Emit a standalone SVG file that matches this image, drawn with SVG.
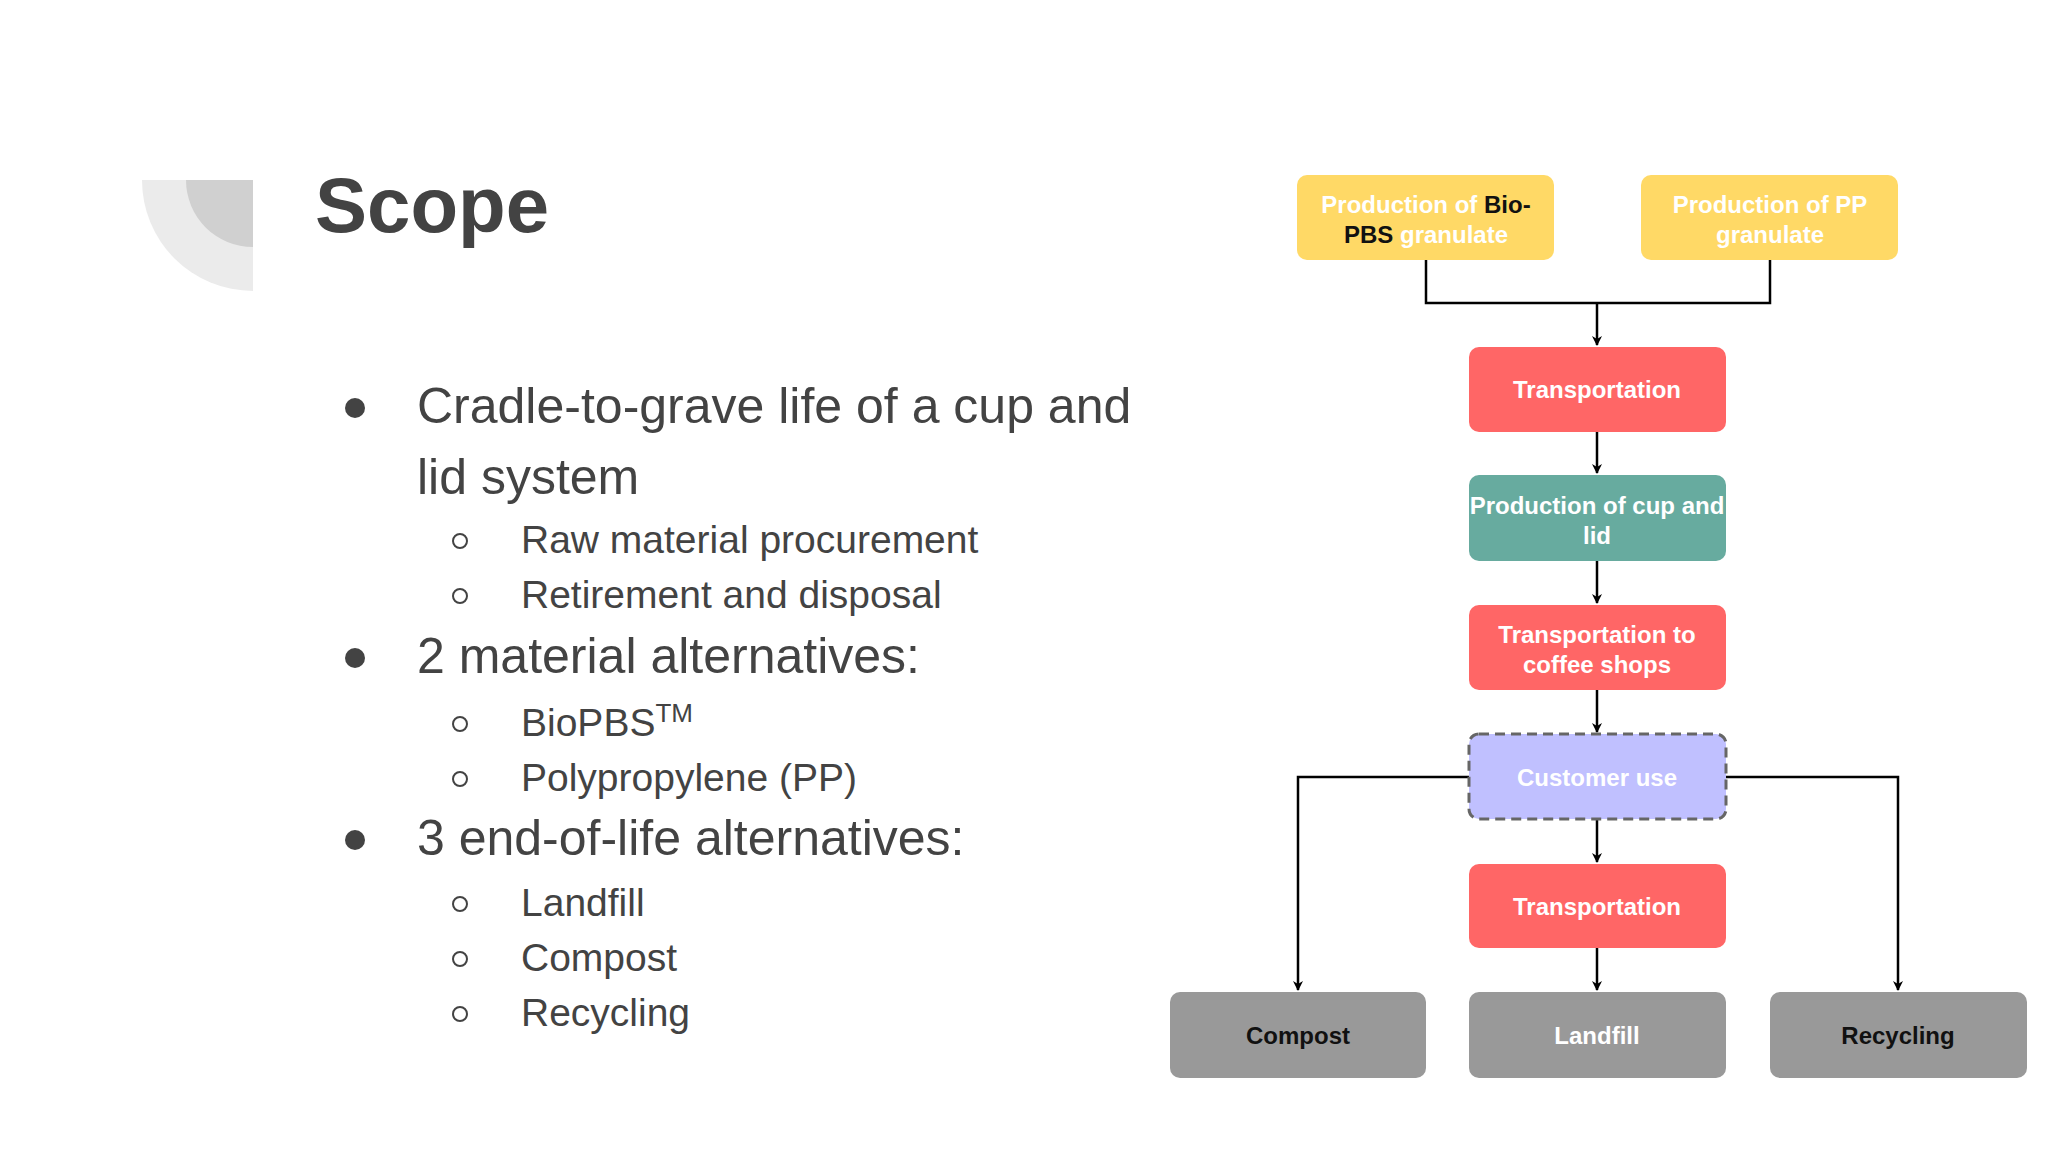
<svg xmlns="http://www.w3.org/2000/svg" width="2048" height="1152" viewBox="0 0 2048 1152">
<defs>
<marker id="ah" markerWidth="10" markerHeight="10" refX="9" refY="5" orient="auto" markerUnits="userSpaceOnUse" viewBox="0 0 10 10"><path d="M0,0 L10,5 L0,10 L3,5 z" fill="#000"/></marker>
</defs>
<style>
.b{font-family:"Liberation Sans",Arial,sans-serif;fill:#434343}
.m{font-size:50px}.s{font-size:39px}
.n{font-family:"Liberation Sans",Arial,sans-serif;font-size:24px;font-weight:bold;fill:#fff;text-anchor:middle}
.k{fill:#111}
.c{fill:none;stroke:#000;stroke-width:2.5}
</style>
<rect width="2048" height="1152" fill="#fff"/>
<path d="M253,180 L142,180 A111,111 0 0 0 253,291 Z" fill="#ebebeb"/>
<path d="M253,180 L186,180 A67,67 0 0 0 253,247 Z" fill="#d0d0d0"/>
<text x="315" y="232" font-family="Liberation Sans,Arial,sans-serif" font-size="78" font-weight="bold" fill="#434343">Scope</text>
<g class="b">
<circle cx="355" cy="408" r="10"/><circle cx="355" cy="658" r="10"/><circle cx="355" cy="840" r="10"/>
<text class="m" x="417" y="423">Cradle-to-grave life of a cup and</text>
<text class="m" x="417" y="494">lid system</text>
<text class="m" x="417" y="673">2 material alternatives:</text>
<text class="m" x="417" y="855">3 end-of-life alternatives:</text>
<g fill="none" stroke="#434343" stroke-width="2"><circle cx="460" cy="541" r="7"/><circle cx="460" cy="596" r="7"/><circle cx="460" cy="724" r="7"/><circle cx="460" cy="779" r="7"/><circle cx="460" cy="904" r="7"/><circle cx="460" cy="959" r="7"/><circle cx="460" cy="1014" r="7"/></g>
<text class="s" x="521" y="553">Raw material procurement</text>
<text class="s" x="521" y="608">Retirement and disposal</text>
<text class="s" x="521" y="736">BioPBS<tspan font-size="26" dy="-14">TM</tspan></text>
<text class="s" x="521" y="791">Polypropylene (PP)</text>
<text class="s" x="521" y="916">Landfill</text>
<text class="s" x="521" y="971">Compost</text>
<text class="s" x="521" y="1026">Recycling</text>
</g>
<g id="connectors">
<path class="c" d="M1426,260 V303 H1770 V260"/>
<path class="c" d="M1597,303 V345" marker-end="url(#ah)"/>
<path class="c" d="M1597,432 V473" marker-end="url(#ah)"/>
<path class="c" d="M1597,561 V603" marker-end="url(#ah)"/>
<path class="c" d="M1597,690 V732" marker-end="url(#ah)"/>
<path class="c" d="M1597,819 V862" marker-end="url(#ah)"/>
<path class="c" d="M1597,948 V990" marker-end="url(#ah)"/>
<path class="c" d="M1469,777 H1298 V990" marker-end="url(#ah)"/>
<path class="c" d="M1726,777 H1898 V990" marker-end="url(#ah)"/>
</g>
<g id="bio"><rect x="1297" y="175" width="257" height="85" rx="10" fill="#FFD966"/><text class="n" x="1426" y="213">Production of <tspan class="k">Bio-</tspan></text><text class="n" x="1426" y="243"><tspan class="k">PBS</tspan> granulate</text></g>
<g id="pp"><rect x="1641" y="175" width="257" height="85" rx="10" fill="#FFD966"/><text class="n" x="1770" y="213">Production of PP</text><text class="n" x="1770" y="243">granulate</text></g>
<g id="t1"><rect x="1469" y="347" width="257" height="85" rx="10" fill="#FF6666"/><text class="n" x="1597" y="398">Transportation</text></g>
<g id="cup"><rect x="1469" y="475" width="257" height="86" rx="10" fill="#67AB9F"/><text class="n" x="1597" y="514">Production of cup and</text><text class="n" x="1597" y="544">lid</text></g>
<g id="t2"><rect x="1469" y="605" width="257" height="85" rx="10" fill="#FF6666"/><text class="n" x="1597" y="643">Transportation to</text><text class="n" x="1597" y="673">coffee shops</text></g>
<g id="cu"><rect x="1469" y="734" width="257" height="85" rx="10" fill="#C0C0FF" stroke="#666" stroke-width="3" stroke-dasharray="10,6"/><text class="n" x="1597" y="786">Customer use</text></g>
<g id="t3"><rect x="1469" y="864" width="257" height="84" rx="10" fill="#FF6666"/><text class="n" x="1597" y="915">Transportation</text></g>
<g id="compost"><rect x="1170" y="992" width="256" height="86" rx="10" fill="#999"/><text class="n k" x="1298" y="1044">Compost</text></g>
<g id="landfill"><rect x="1469" y="992" width="257" height="86" rx="10" fill="#999"/><text class="n" x="1597" y="1044">Landfill</text></g>
<g id="recycling"><rect x="1770" y="992" width="257" height="86" rx="10" fill="#999"/><text class="n k" x="1898" y="1044">Recycling</text></g>
</svg>
